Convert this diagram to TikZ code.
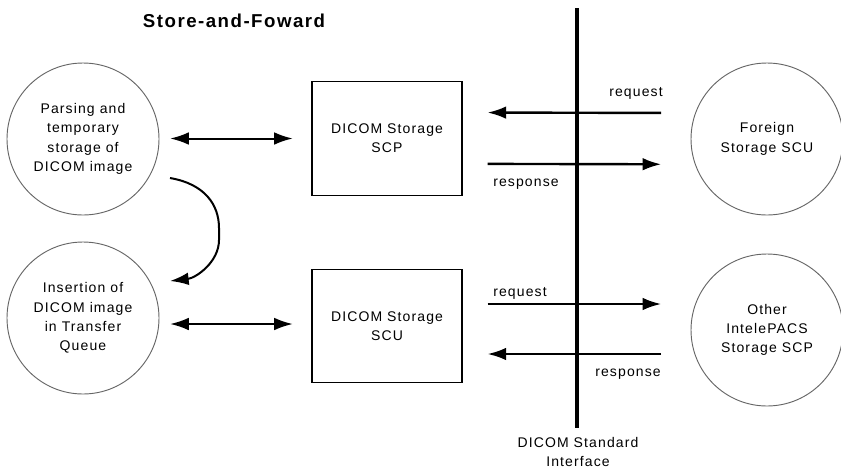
\documentclass[tikz,border=0pt]{standalone}
\usepackage{fontspec}
\setmainfont{Liberation Sans}[LetterSpace=8]
\usetikzlibrary{arrows.meta}

\begin{document}
\begin{tikzpicture}[x=0.75pt,y=-0.75pt,
  proc/.style={draw=black!60,line width=0.7pt,circle,minimum size=114pt,inner sep=0pt,align=center,font=\fontsize{10.5}{14.5}\selectfont},
  sbox/.style={draw,line width=0.8pt,minimum width=112.5pt,minimum height=85pt,align=center,font=\fontsize{10.5}{14.5}\selectfont},
  lbl/.style={inner sep=0pt,font=\fontsize{10.5}{14.5}\selectfont},
  >={Latex[length=14pt,width=9.5pt]}]
\useasboundingbox (0,0) rectangle (841,475);
\node[font=\fontsize{14}{16}\selectfont\bfseries] (title) at (234,21) {Store-and-Foward};
% left side
\node[proc] (parse) at (83,139) {Parsing and\\temporary\\storage of\\DICOM image};
\node[proc] (insert) at (83,318) {Insertion of\\DICOM image\\in Transfer\\Queue};
\node[sbox] (scp) at (387,138.5) {DICOM Storage\\SCP};
\node[sbox] (scu) at (387,326) {DICOM Storage\\SCU};
\draw[<->,line width=1.5pt,shorten <=8pt,shorten >=14pt] (parse.east |- scp.west) -- (scp.west);
\draw[<->,line width=1.5pt,shorten <=8pt,shorten >=14pt] ([yshift=1.5pt]insert.east |- scu.west) -- ([yshift=1.5pt]scu.west);
\coordinate (qout) at (170,178);
\coordinate (qin) at (170,281);
\draw[->,line width=1.5pt] (qout) .. controls (205,184) and (219,205) .. (219,228) -- (219,240) .. controls (219,262) and (196,278) .. (qin);
% interface
\node[lbl,align=center,anchor=north] (iface) at (578,437) {DICOM Standard\\Interface};
\coordinate (itop) at (577,8);
\draw[line width=2.3pt] (itop) -- ([yshift=7pt]iface.north -| itop);
% right side
\node[proc] (foreign) at (767,139) {Foreign\\Storage SCU};
\node[proc] (other) at (767,330) {Other\\IntelePACS\\Storage SCP};
\draw[->,line width=1.8pt,shorten <=22pt,shorten >=18.75pt] ([yshift=19.5pt]foreign.west) -- ([yshift=19.5pt]scp.east);
\draw[->,line width=1.8pt,shorten <=18.75pt,shorten >=22pt] ([yshift=-19pt]scp.east) -- ([yshift=-19pt]foreign.west);
\draw[->,line width=1.8pt,shorten <=18.75pt,shorten >=22pt] ([yshift=16.5pt]scu.east) -- ([yshift=19.5pt]other.west);
\draw[->,line width=1.8pt,shorten <=22pt,shorten >=18.75pt] ([yshift=-18pt]other.west) -- ([yshift=-21pt]scu.east);
\node[lbl,anchor=east] (req1) at (663,93) {request};
\node[lbl,anchor=west] (resp1) at (493,184) {response};
\node[lbl,anchor=west] (req2) at (493,293) {request};
\node[lbl,anchor=east] (resp2) at (661,374) {response};
\end{tikzpicture}
\end{document}
